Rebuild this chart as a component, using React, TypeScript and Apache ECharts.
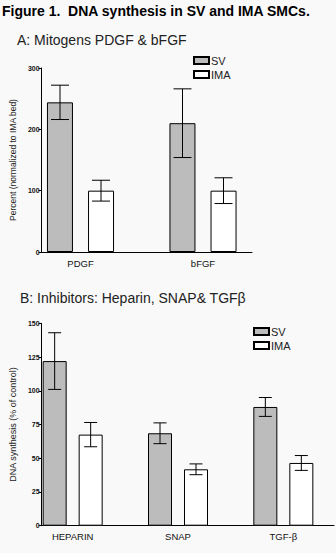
import React, { useEffect, useRef } from "react";
import * as echarts from "echarts";

const mitogenCategories = ["PDGF", "bFGF"];
const mitogenSV = [244, 210];
const mitogenSVErr = [28, 56];
const mitogenIMA = [100, 100];
const mitogenIMAErr = [17, 21];
const mitogenTicks = [0, 100, 200, 300];

const inhibitorCategories = ["HEPARIN", "SNAP", "TGF-\u03b2"];
const inhibitorSV = [122, 68.5, 88];
const inhibitorSVErr = [21, 7.7, 7];
const inhibitorIMA = [67.5, 41.8, 46.5];
const inhibitorIMAErr = [9, 4, 5.5];
const inhibitorTicks = [0, 25, 50, 75, 100, 125, 150];

const FONT = "Liberation Sans, Arial, sans-serif";
const GRAY = "#bcbcbc";

function errSeries(name: string, xAxisIndex: number, yAxisIndex: number, vals: number[], errs: number[], offset: number, cap: number) {
  return {
    type: "custom",
    name,
    xAxisIndex,
    yAxisIndex,
    silent: true,
    z: 10,
    data: vals.map((v, i) => [i, v, errs[i]]),
    renderItem: (params: any, api: any) => {
      const i = api.value(0);
      const v = api.value(1);
      const e = api.value(2);
      const top = api.coord([i, v + e]);
      const bot = api.coord([i, v - e]);
      const x = top[0] + offset;
      const style = { stroke: "#000", lineWidth: 1 };
      return {
        type: "group",
        children: [
          { type: "line", shape: { x1: x, y1: top[1], x2: x, y2: bot[1] }, style },
          { type: "line", shape: { x1: x - cap / 2, y1: top[1], x2: x + cap / 2, y2: top[1] }, style },
          { type: "line", shape: { x1: x - cap / 2, y1: bot[1], x2: x + cap / 2, y2: bot[1] }, style },
        ],
      };
    },
  };
}

export default function App() {
  const ref = useRef<HTMLDivElement>(null);
  useEffect(() => {
    if (!ref.current) return;
    const chart = echarts.init(ref.current, null, { renderer: "svg" });
    const aTop = 68, aH = 184;
    const bTop = 323.3, bH = 202.4;
    const tickLabel = { fontFamily: FONT, fontSize: 7, fontWeight: "bold", color: "#111", margin: 2 };
    const axisLine = { show: true, lineStyle: { color: "#000", width: 1 } };
    const catLabel = { fontFamily: FONT, fontSize: 9.5, color: "#111" };
    const legendText = { fontFamily: FONT, fontSize: 11, color: "#222", padding: [0, 0, 0, -3] };
    const option: any = {
      animation: false,
      backgroundColor: "#f9f9f9",
      title: [
        { text: "Figure 1.  DNA synthesis in SV and IMA SMCs.", left: 2, top: 4, padding: 0, textStyle: { fontFamily: FONT, fontSize: 14, fontWeight: "bold", color: "#000" } },
        { text: "A: Mitogens PDGF & bFGF", left: 17, top: 33, padding: 0, textStyle: { fontFamily: FONT, fontSize: 14, fontWeight: "normal", color: "#222" } },
        { text: "B: Inhibitors: Heparin, SNAP& TGF\u03b2", left: 20, top: 291, padding: 0, textStyle: { fontFamily: FONT, fontSize: 14, fontWeight: "normal", color: "#222" } },
      ],
      legend: [
        { data: ["SV", "IMA"], icon: "rect", orient: "vertical", left: 193, top: 55, padding: 0, itemWidth: 15, itemHeight: 7, itemGap: 3, textStyle: legendText },
        { data: ["SV", "IMA"], icon: "rect", orient: "vertical", left: 253, top: 326, padding: 0, itemWidth: 15, itemHeight: 7, itemGap: 3, textStyle: legendText },
      ],
      grid: [
        { left: 19.25, width: 245, top: aTop, height: aH },
        { left: 33, width: 219, top: aTop, height: aH },
        { left: 20, width: 326, top: bTop, height: bH },
        { left: 32, width: 302, top: bTop, height: bH },
      ],
      xAxis: [
        { type: "category", gridIndex: 0, data: mitogenCategories, axisLine: { show: false }, axisTick: { show: false }, axisLabel: { ...catLabel, margin: 6 } },
        { type: "value", gridIndex: 1, min: 0, max: 1, axisLine: axisLine, axisTick: { show: false }, axisLabel: { show: false }, splitLine: { show: false } },
        { type: "category", gridIndex: 2, data: inhibitorCategories, axisLine: { show: false }, axisTick: { show: false }, axisLabel: { ...catLabel, margin: 6 } },
        { type: "value", gridIndex: 3, min: 0, max: 1, axisLine: axisLine, axisTick: { show: false }, axisLabel: { show: false }, splitLine: { show: false } },
      ],
      yAxis: [
        { type: "value", gridIndex: 0, min: 0, max: 300, show: false },
        {
          type: "value", gridIndex: 1, min: 0, max: 300, interval: 100,
          axisLine, axisTick: { show: true, length: 3, lineStyle: { color: "#000" } }, axisLabel: tickLabel, splitLine: { show: false },
          name: "Percent (normalized to IMA bed)", nameLocation: "middle", nameGap: 23,
          nameTextStyle: { fontFamily: FONT, fontSize: 8.5, color: "#222" },
        },
        { type: "value", gridIndex: 2, min: 0, max: 150, show: false },
        {
          type: "value", gridIndex: 3, min: 0, max: 150, interval: 25,
          axisLine, axisTick: { show: true, length: 3, lineStyle: { color: "#000" } }, axisLabel: tickLabel, splitLine: { show: false },
          name: "DNA synthesis (% of control)", nameLocation: "middle", nameGap: 22,
          nameTextStyle: { fontFamily: FONT, fontSize: 9, color: "#222" },
        },
      ],
      series: [
        { type: "bar", name: "SV", xAxisIndex: 0, yAxisIndex: 0, data: mitogenSV, barWidth: 26, barGap: "58%", itemStyle: { color: GRAY, borderColor: "#000", borderWidth: 1 } },
        { type: "bar", name: "IMA", xAxisIndex: 0, yAxisIndex: 0, data: mitogenIMA, barWidth: 26, barGap: "58%", itemStyle: { color: "#fff", borderColor: "#000", borderWidth: 1 } },
        errSeries("SV err A", 0, 0, mitogenSV, mitogenSVErr, -20.5, 18),
        errSeries("IMA err A", 0, 0, mitogenIMA, mitogenIMAErr, 20.5, 18),
        { type: "bar", name: "SV", xAxisIndex: 2, yAxisIndex: 2, data: inhibitorSV, barWidth: 24, barGap: "50%", itemStyle: { color: GRAY, borderColor: "#000", borderWidth: 1 } },
        { type: "bar", name: "IMA", xAxisIndex: 2, yAxisIndex: 2, data: inhibitorIMA, barWidth: 24, barGap: "50%", itemStyle: { color: "#fff", borderColor: "#000", borderWidth: 1 } },
        errSeries("SV err B", 2, 2, inhibitorSV, inhibitorSVErr, -18, 13),
        errSeries("IMA err B", 2, 2, inhibitorIMA, inhibitorIMAErr, 18, 13),
      ],
    };
    chart.setOption(option);
    return () => chart.dispose();
  }, []);
  return <div ref={ref} style={{ position: "absolute", left: 0, top: 0, width: 336, height: 553 }} />;
}
